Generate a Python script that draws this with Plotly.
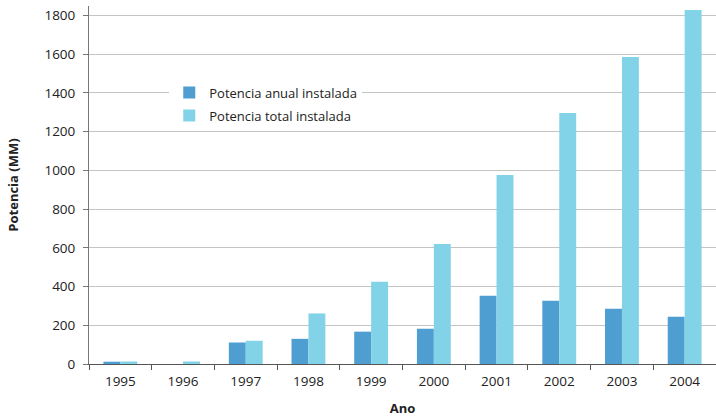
import plotly.graph_objects as go

anos = ["1995", "1996", "1997", "1998", "1999", "2000", "2001", "2002", "2003", "2004"]
potencia_anual = [12, 0, 111, 130, 167, 182, 352, 327, 285, 244]
potencia_total = [13, 13, 120, 261, 424, 620, 976, 1296, 1585, 1827]
y_ticks = [0, 200, 400, 600, 800, 1000, 1200, 1400, 1600, 1800]

cor_anual = "#4f9ed2"
cor_total = "#82d3e8"
fonte = "Open Sans"

fig = go.Figure()
fig.add_trace(go.Bar(x=anos, y=potencia_anual, name="Potencia anual instalada",
                     legendgroup="a",
                     marker=dict(color=cor_anual, line=dict(width=0))))
fig.add_trace(go.Bar(x=anos, y=potencia_total, name="Potencia total instalada",
                     legendgroup="b",
                     marker=dict(color=cor_total, line=dict(width=0))))

fig.update_layout(
    width=716, height=419,
    margin=dict(l=89, r=0, t=6, b=55),
    paper_bgcolor="white", plot_bgcolor="white",
    barmode="group", bargap=0.46, bargroupgap=0,
    font=dict(family=fonte, size=13.5, color="#222222"),
    showlegend=True,
    legend=dict(x=0.128, y=0.80, xanchor="left", yanchor="top",
                bgcolor="white", borderwidth=0,
                font=dict(family=fonte, size=13, color="#222222"),
                tracegroupgap=3, itemwidth=30),
    xaxis=dict(
        type="category", tickson="boundaries",
        ticks="outside", ticklen=5, tickcolor="#555555", tickwidth=1,
        ticklabelstandoff=5,
        showline=True, linecolor="#555555", linewidth=1,
        showgrid=False,
        title=dict(text="<b>Ano</b>", font=dict(family=fonte, size=13), standoff=14),
    ),
    yaxis=dict(
        range=[0, 1848], tickvals=y_ticks,
        ticks="outside", ticklen=5, tickcolor="#777777",
        ticklabelstandoff=5,
        showline=True, linecolor="#777777", linewidth=1,
        showgrid=True, gridcolor="#c4c4c4", gridwidth=1,
        zeroline=False,
        title=dict(text="<b>Potencia (MM)</b>", font=dict(family=fonte, size=13), standoff=22),
    ),
)

fig.write_html("out.html")
